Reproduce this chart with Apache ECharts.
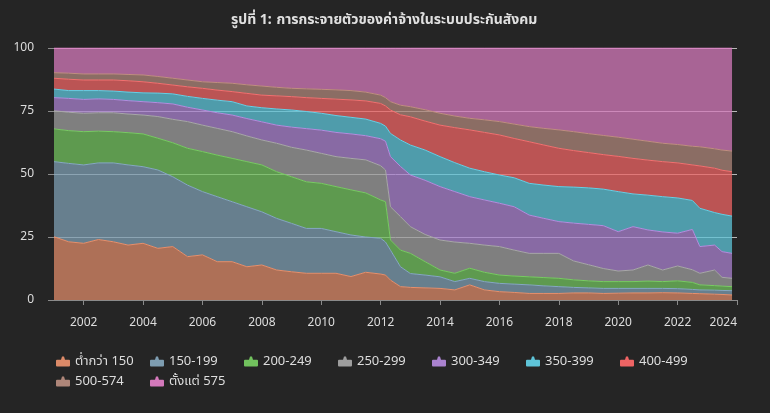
<!DOCTYPE html>
<html>
<head>
<meta charset="utf-8">
<script src="https://cdn.jsdelivr.net/npm/echarts@6/dist/echarts.min.js"></script>
<style>
html,body{margin:0;padding:0;background:#252525;}
#chart{width:770px;height:413px;}
</style>
</head>
<body>
<div id="chart"></div>
<script>
// Dates (year-month) of the sampled points
const dates = ['2001-01','2001-07','2002-01','2002-07','2003-01','2003-07','2004-01','2004-07',
  '2005-01','2005-07','2006-01','2006-07','2007-01','2007-07','2008-01','2008-07',
  '2009-01','2009-07','2010-01','2010-07','2011-01','2011-07','2012-01','2012-03',
  '2012-05','2012-09','2013-01','2013-07','2014-01','2014-07','2015-01','2015-07',
  '2016-01','2016-07','2017-01','2017-07','2018-01','2018-07','2019-01','2019-07',
  '2020-01','2020-07','2021-01','2021-07','2022-01','2022-07','2022-10','2023-04',
  '2023-07','2023-11'];

// Share (%) of insured employees per wage band
const below150 = [25.1,23.1,22.5,24.0,23.1,21.8,22.5,20.5,21.2,17.2,17.9,15.2,15.2,13.2,13.9,11.9,
  11.2,10.6,10.6,10.6,9.3,11.0,10.3,9.9,7.9,5.3,5.0,4.8,4.6,4.0,6.0,4.0,
  3.3,3.0,2.6,2.6,2.6,2.8,2.8,2.6,2.7,2.8,2.8,2.9,2.8,2.6,2.5,2.3,2.2,2.0];
const w150_199 = [29.8,31.1,31.1,30.4,31.3,31.8,30.4,31.1,27.7,28.4,25.1,25.8,23.8,23.8,21.1,20.5,
  19.2,17.8,17.8,16.5,16.5,14.0,14.2,13.1,11.9,7.9,5.5,5.1,4.6,3.3,2.6,3.3,
  3.3,3.3,3.4,3.0,2.7,2.2,2.0,2.0,1.9,1.8,1.8,1.7,1.7,1.6,1.5,1.6,1.6,1.7];
const w200_249 = [13.0,13.0,13.2,12.6,12.4,12.8,13.0,12.6,13.5,14.6,15.9,16.5,17.2,17.9,18.6,18.5,
  18.5,18.5,17.9,17.9,17.9,17.5,15.2,16.0,4.0,6.6,8.0,5.3,2.7,3.3,4.0,3.7,
  3.3,3.2,3.2,3.3,3.3,3.0,2.8,2.7,2.7,2.7,2.9,2.7,3.1,2.8,2.0,1.8,1.7,1.6];
const w250_299 = [7.2,7.3,7.3,7.3,7.5,7.4,7.5,8.6,9.3,10.6,10.5,10.6,10.6,10.2,9.9,11.3,
  11.7,12.6,11.9,11.9,12.5,13.1,13.6,12.6,13.2,13.3,10.6,10.8,11.9,12.4,9.9,10.8,
  11.3,10.3,9.3,9.6,9.9,7.5,6.4,5.2,4.2,4.6,6.4,4.6,5.9,5.0,4.6,6.2,3.5,3.3];
const w300_349 = [5.2,5.5,5.5,5.5,5.3,5.3,5.3,5.5,6.1,5.7,6.0,6.2,6.6,6.9,7.2,7.2,
  8.0,8.5,9.2,9.6,9.7,9.6,10.7,11.4,19.9,19.9,20.5,21.5,21.2,20.0,18.5,17.9,
  17.2,17.2,15.2,13.9,12.6,15.0,16.0,17.0,15.6,17.2,13.9,15.1,13.0,16.0,10.6,9.9,10.2,9.9];
const w350_399 = [3.4,3.1,3.5,3.3,3.3,3.4,3.5,3.8,4.0,4.3,4.6,5.0,5.3,5.0,5.6,6.4,
  6.8,6.8,6.7,6.7,6.6,6.6,6.1,6.0,9.2,10.5,11.9,12.0,11.9,11.5,11.3,11.2,
  11.2,11.5,12.6,13.2,13.9,14.3,14.5,14.5,15.9,13.0,13.8,14.0,14.0,11.5,15.2,12.9,14.8,14.8];
const w400_499 = [4.3,4.5,4.2,4.2,4.4,4.5,4.4,3.9,3.5,3.8,4.0,4.0,4.0,5.0,5.0,5.2,
  5.3,5.5,5.9,6.5,6.9,7.2,7.9,8.0,9.3,10.0,11.2,11.5,12.5,13.9,15.2,15.6,
  15.9,15.6,16.5,15.9,15.2,14.5,14.0,13.7,14.0,14.1,13.9,13.9,13.9,14.1,16.8,17.6,17.5,17.6];
const w500_574 = [2.2,2.4,2.4,2.4,2.4,2.5,2.7,2.7,2.7,2.7,2.6,3.0,3.3,3.4,3.6,3.4,
  3.3,3.5,3.6,3.7,3.7,3.5,3.3,3.3,3.3,3.8,4.0,4.5,4.7,4.6,4.6,5.0,
  5.3,5.7,6.0,6.6,7.3,7.5,7.5,7.6,7.6,7.6,7.5,7.3,7.3,7.4,7.6,7.7,8.0,8.2];
const from575 = [9.8,10.0,10.3,10.3,10.3,10.5,10.7,11.3,12.0,12.7,13.4,13.7,14.0,14.6,15.1,15.6,
  16.0,16.2,16.4,16.6,16.9,17.5,18.7,19.7,21.3,22.7,23.3,24.5,25.9,27.0,27.9,28.5,
  29.2,30.2,31.2,31.9,32.5,33.2,34.0,34.7,35.4,36.2,37.0,37.8,38.3,39.0,39.2,40.0,40.5,40.9];

const seriesNames = ['ต่ำกว่า 150','150-199','200-249','250-299','300-349','350-399','400-499','500-574','ตั้งแต่ 575'];
const seriesValues = [below150,w150_199,w200_249,w250_299,w300_349,w350_399,w400_499,w500_574,from575];
const xTickYears = [2002,2004,2006,2008,2010,2012,2014,2016,2018,2020,2022,2024];

const colors = ['#dc8a68','#7e9db1','#72c25e','#9e9e9e','#aa82cf','#5ec4d8','#ee6464','#ae8679','#d479bb'];
const lineColors = ['#e8906c','#86a8c4','#78cc62','#a8a8a8','#b58ce0','#66d0e6','#f47070','#c08e80','#e084c8'];

function toTime(s){const p=s.split('-').map(Number);return Date.UTC(p[0],p[1]-1,1);}
const FONT = '"Noto Sans", "Noto Sans Thai", Roboto, sans-serif';

const chart = echarts.init(document.getElementById('chart'), null, {renderer:'canvas'});
chart.setOption({
  backgroundColor:'#252525',
  animation:false,
  textStyle:{fontFamily:FONT},
  title:{
    left:226, top:6,
    text:'{b|รูปที่ 1:} {n|การกระจายตัวของค่าจ้างในระบบประกันสังคม}',
    textStyle:{rich:{
      b:{fontWeight:'bold',fontSize:14,color:'#e0e0e0',fontFamily:FONT},
      n:{fontSize:14,color:'#e0e0e0',fontFamily:FONT}
    }}
  },
  legend:{
    left:51, right:30, top:350,
    itemWidth:14, itemHeight:10, itemGap:7,
    symbolKeepAspect:false,
    icon:'path://M1,3.5 L5,3.5 L6,0.5 L8,0.5 L9,3.5 L13,3.5 Q14,3.5 14,4.5 L14,9 Q14,10 13,10 L1,10 Q0,10 0,9 L0,4.5 Q0,3.5 1,3.5 Z',
    textStyle:{color:'#dddddd',fontSize:13,width:68,lineHeight:8,fontFamily:FONT},
    data:seriesNames
  },
  grid:{left:54,right:33,top:48,bottom:113,containLabel:false},
  xAxis:[{
    // data axis (time)
    type:'time',
    min:Date.UTC(2001,0,1), max:Date.UTC(2024,0,1),
    axisLine:{show:true,lineStyle:{color:'#8a8a8a',width:1}},
    axisTick:{show:false},
    axisLabel:{show:false},
    splitLine:{show:false}
  },{
    // tick / label axis in years, same span
    type:'value', position:'bottom',
    min:2001, max:2024,
    axisLine:{show:false},
    axisTick:{show:true,length:5,lineStyle:{color:'#8a8a8a'},customValues:xTickYears},
    axisLabel:{color:'#dddddd',fontSize:12,margin:17,customValues:xTickYears,alignMaxLabel:'right',
      formatter:function(v){return String(Math.round(v));}},
    splitLine:{show:false}
  }],
  yAxis:{
    type:'value', min:0, max:100, interval:25,
    axisLine:{show:false},
    axisTick:{show:true,length:6,lineStyle:{color:'#8a8a8a'}},
    axisLabel:{color:'#dddddd',fontSize:12,margin:20},
    splitLine:{show:true,lineStyle:{color:'#b8b8b8',width:1}}
  },
  series: seriesNames.map((n,i)=>({
    name:n, type:'line', stack:'total', symbol:'none', showSymbol:false,
    xAxisIndex:0,
    lineStyle:{width:1,color:lineColors[i]},
    itemStyle:{color:colors[i]},
    areaStyle:{color:colors[i],opacity:0.75},
    emphasis:{disabled:true},
    data: dates.map((d,j)=>[toTime(d), seriesValues[i][j]])
  }))
});
</script>
</body>
</html>
